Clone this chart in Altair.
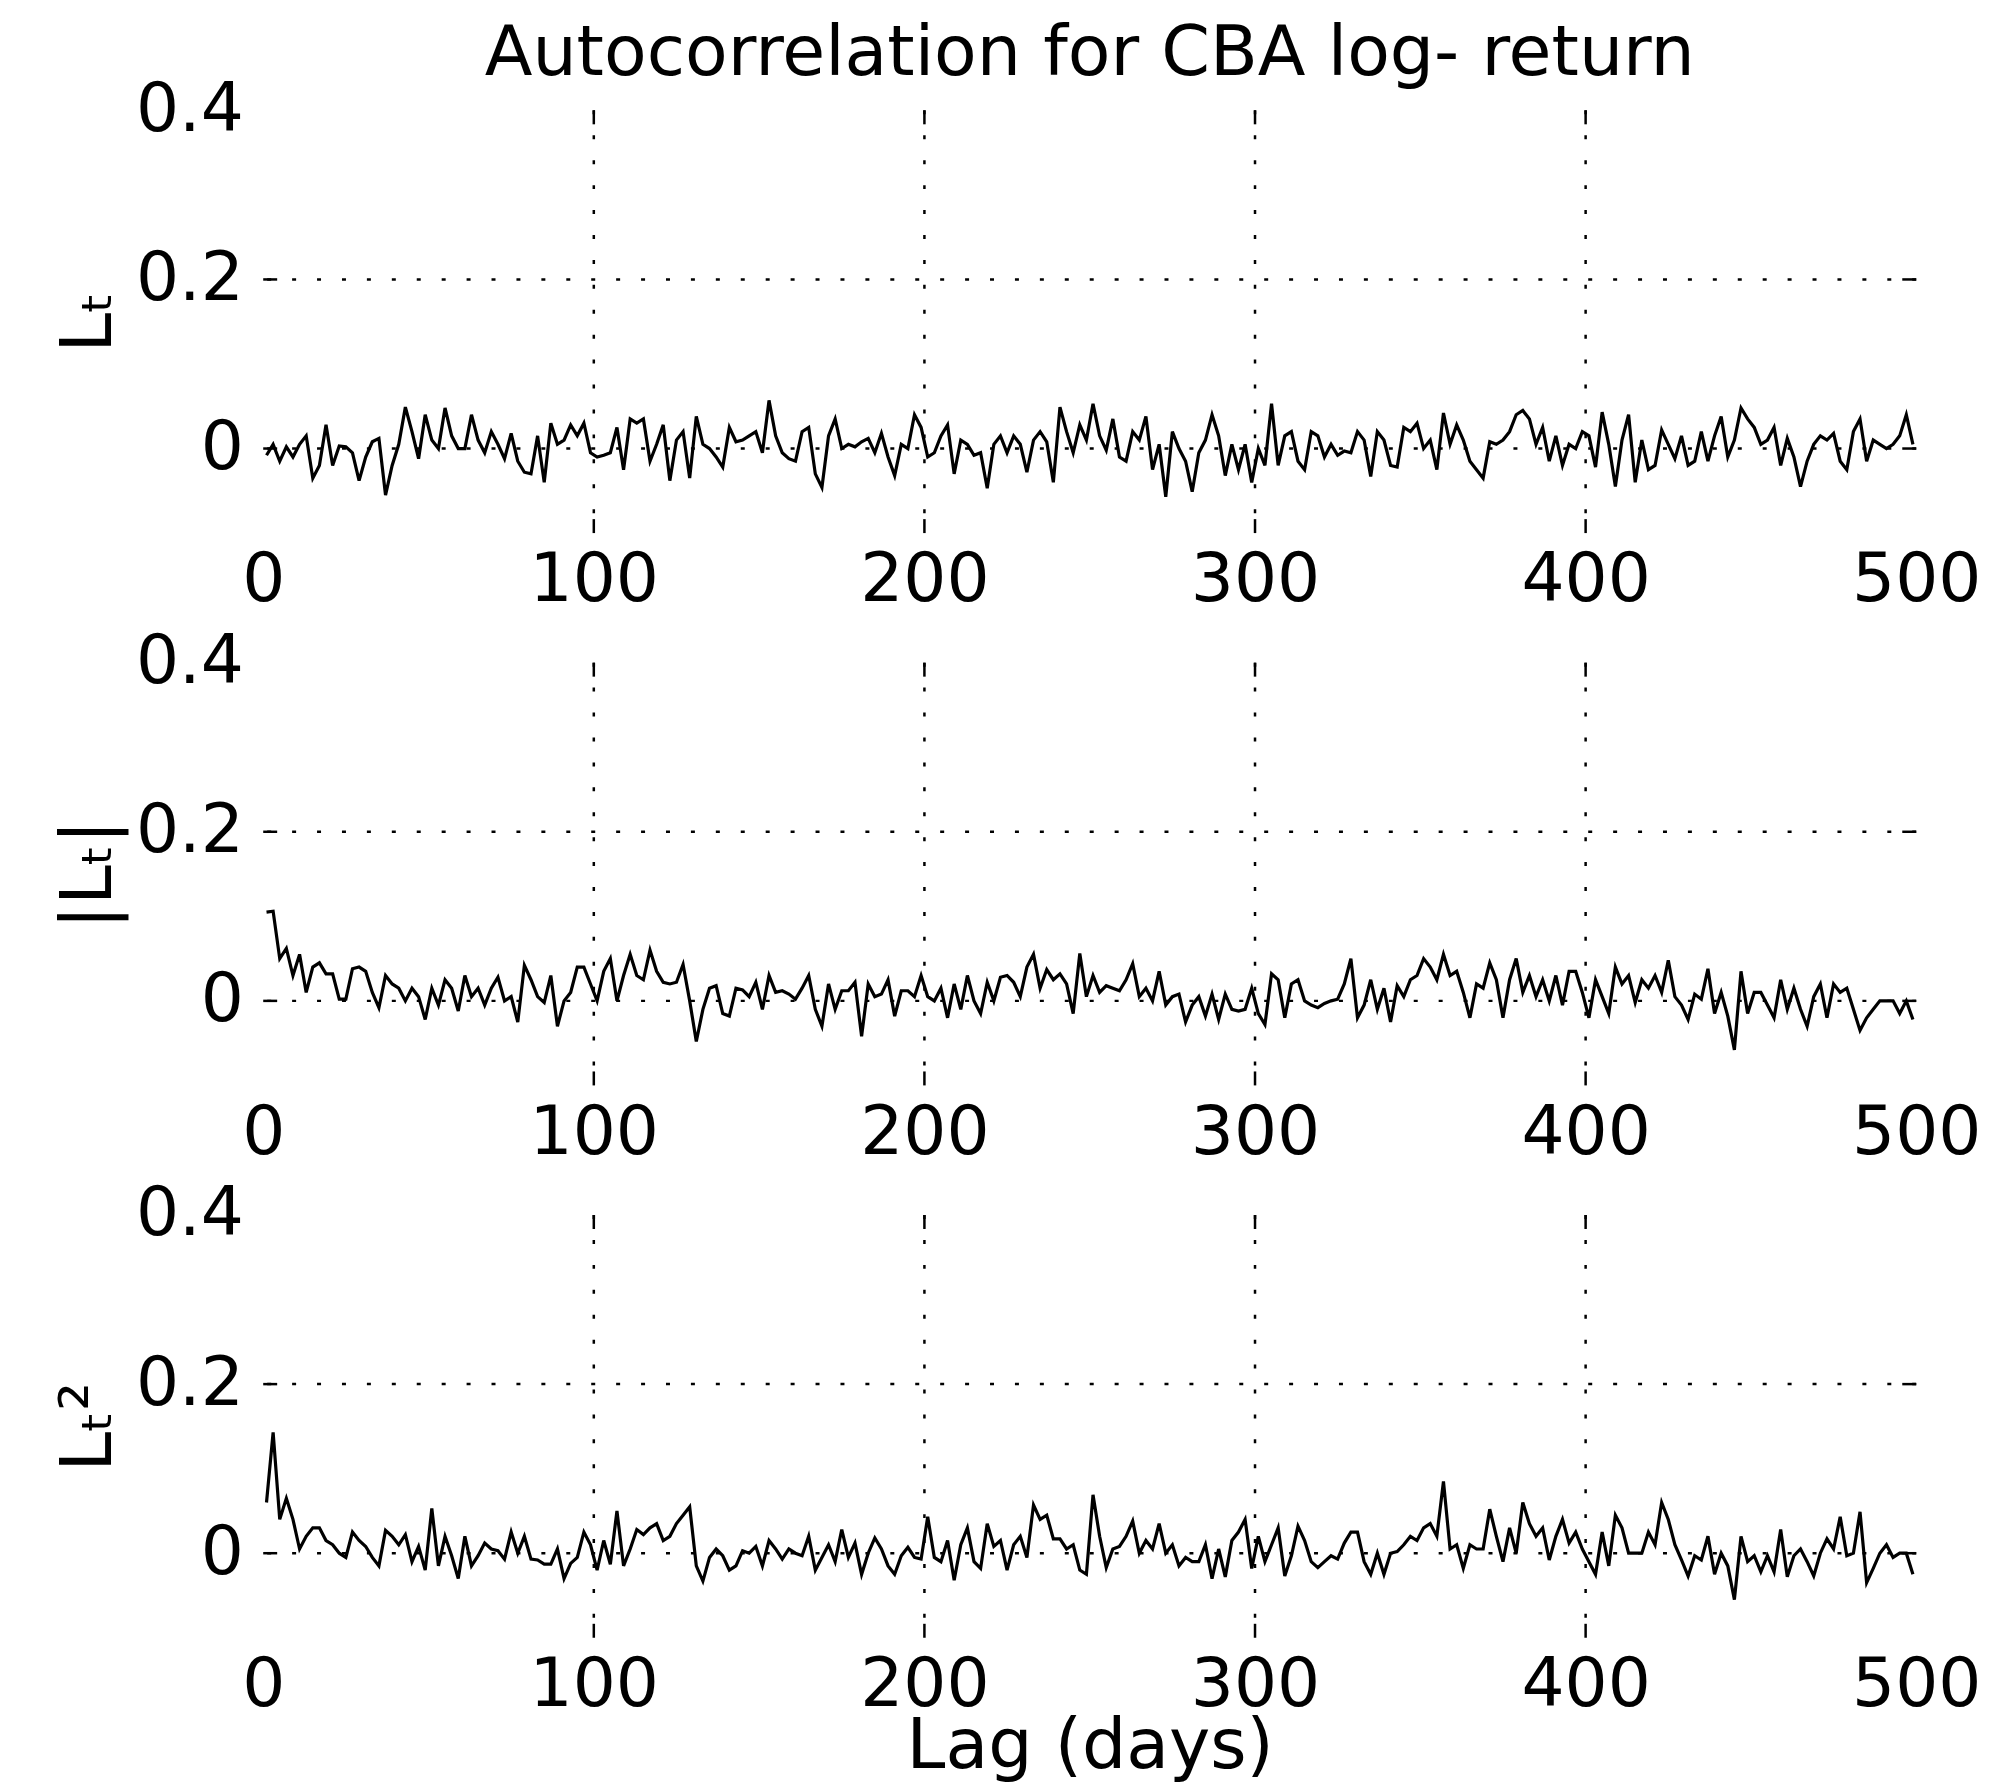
import altair as alt
import pandas as pd

TITLE = "Autocorrelation for CBA log- return"
X_TITLE = "Lag (days)"
Y_TITLES = ["Lₜ", "|Lₜ|", "Lₜ²"]
X_TICKS = [0, 100, 200, 300, 400, 500]
Y_TICKS = [0, 0.2, 0.4]
GRID_X = [100, 200, 300, 400]
GRID_Y = [0, 0.2]

# autocorrelation values (in thousandths), read at lags 1, 3, 5, ..., 499
ACF_L = [
    -8, 5, -15, 2, -10, 5, 15, -35, -20, 28,
    -20, 3, 2, -5, -38, -10, 8, 12, -55, -20,
    5, 49, 20, -12, 40, 10, 0, 48, 15, 0,
    0, 40, 10, -5, 20, 5, -12, 18, -15, -28,
    -30, 15, -40, 30, 5, 10, 28, 15, 30, -5,
    -10, -8, -5, 25, -25, 35, 30, 35, -15, 5,
    28, -38, 10, 20, -35, 38, 5, 0, -10, -22,
    25, 8, 10, 15, 20, -5, 57, 15, -5, -12,
    -15, 20, 25, -30, -46, 15, 35, 0, 5, 2,
    8, 12, -5, 18, -10, -32, 5, 0, 40, 25,
    -10, -5, 15, 28, -30, 10, 5, -8, -5, -47,
    5, 15, -5, 15, 5, -28, 10, 20, 8, -40,
    49, 20, -5, 28, 10, 53, 15, -2, 35, -10,
    -15, 20, 10, 38, -25, 5, -57, 20, 0, -15,
    -51, -5, 10, 40, 15, -32, 5, -25, 5, -40,
    0, -20, 53, -20, 15, 20, -15, -25, 20, 15,
    -10, 5, -8, -3, -5, 20, 10, -33, 20, 10,
    -20, -22, 25, 20, 30, 0, 10, -25, 42, 5,
    28, 10, -15, -25, -35, 8, 5, 10, 20, 40,
    45, 35, 5, 25, -15, 15, -20, 5, 0, 20,
    15, -22, 43, 5, -45, 10, 40, -40, 10, -25,
    -20, 22, 5, -12, 15, -20, -15, 20, -15, 15,
    38, -10, 10, 48, 35, 25, 5, 10, 25, -20,
    12, -10, -45, -15, 5, 15, 10, 18, -15, -25,
    20, 35, -15, 10, 5, 0, 5, 15, 40, 5,
]

ACF_ABS = [
    105, 106, 50, 62, 30, 55, 10, 40, 45, 32,
    32, 2, 2, 38, 40, 35, 10, -8, 30, 20,
    15, 0, 15, 5, -22, 15, -5, 25, 15, -12,
    30, 5, 15, -5, 15, 28, 0, 5, -25, 42,
    25, 5, -2, 30, -30, 0, 10, 40, 40, 20,
    0, 35, 50, 0, 30, 55, 30, 25, 60, 35,
    22, 20, 22, 43, 0, -48, -10, 15, 18, -15,
    -18, 15, 13, 5, 22, -10, 30, 10, 12, 8,
    2, 15, 30, -10, -30, 20, -10, 12, 12, 22,
    -42, 20, 5, 8, 25, -18, 12, 12, 5, 30,
    5, 0, 15, -20, 20, -10, 30, 0, -15, 22,
    0, 28, 30, 22, 5, 40, 55, 15, 37, 25,
    32, 20, -15, 56, 5, 30, 10, 18, 15, 12,
    25, 44, 5, 15, 0, 35, -5, 5, 8, -25,
    -5, 5, -18, 8, -22, 8, -10, -12, -10, 15,
    -15, -28, 32, 25, -20, 20, 25, 0, -5, -8,
    -3, 0, 2, 20, 50, -20, -5, 25, -10, 15,
    -25, 18, 5, 25, 30, 50, 40, 25, 55, 30,
    35, 10, -20, 20, 15, 45, 25, -20, 25, 50,
    10, 30, 5, 25, 0, 30, -5, 35, 35, 10,
    -20, 25, 5, -15, 40, 20, 30, -2, 25, 15,
    30, 10, 48, 5, -5, -22, 8, 2, 38, -15,
    10, -18, -58, 35, -15, 10, 10, -5, -20, 25,
    -10, 15, -10, -30, 5, 20, -20, 20, 10, 15,
    -10, -35, -20, -10, 0, 0, 0, -15, 0, -22,
]

ACF_SQ = [
    60, 143, 40, 65, 40, 5, 20, 30, 30, 15,
    10, 0, -5, 25, 15, 8, -5, -15, 27, 20,
    10, 22, -10, 8, -20, 53, -15, 20, -3, -30,
    20, -15, -3, 12, 5, 3, -7, 25, 0, 20,
    -7, -8, -13, -13, 5, -30, -12, -5, 25, 10,
    -20, 15, -13, 50, -15, 5, 28, 22, 30, 35,
    15, 20, 35, 45, 55, -15, -33, -5, 5, -3,
    -20, -15, 3, 0, 8, -15, 15, 5, -7, 5,
    0, -3, 20, -20, -5, 10, -10, 28, -5, 12,
    -25, 0, 18, 5, -15, -25, -3, 7, -5, -7,
    43, -5, -10, 15, -32, 10, 30, -10, -18, 35,
    8, 15, -20, 10, 20, -5, 57, 40, 45, 17,
    17, 5, 10, -20, -25, 69, 20, -17, 5, 8,
    20, 38, 0, 15, 5, 35, 0, 10, -15, -5,
    -10, -10, 10, -30, 5, -28, 15, 25, 40, -18,
    20, -10, 10, 30, -27, -3, 32, 15, -10, -17,
    -10, -3, -7, 12, 25, 25, -10, -25, 0, -25,
    0, 2, 10, 20, 15, 30, 35, 20, 85, 5,
    10, -18, 10, 5, 5, 52, 20, -10, 30, 0,
    60, 35, 20, 30, -8, 20, 40, 12, 25, 5,
    -10, -25, 25, -15, 45, 30, 0, 0, 0, 25,
    10, 60, 40, 10, -8, -27, -3, -8, 20, -25,
    0, -15, -55, 20, -10, -3, -22, -3, -22, 28,
    -28, -3, 5, -10, -27, 0, 17, 5, 43, -3,
    0, 49, -35, -18, 0, 10, -5, 0, 0, -25,
]

FONT = "DejaVu Sans"
W, H = 1658, 424
TICK = 14


def panel(vals, ytitle, first, last):
    df = pd.DataFrame({
        "lag": [1 + 2 * i for i in range(len(vals))],
        "acf": [v / 1000.0 for v in vals],
    })
    xaxis_kw = dict(
        values=X_TICKS, grid=False, domain=False, ticks=False,
        labelFontSize=68, labelFont=FONT, labelColor="black",
        labelPadding=14, labelFlush=False, format="d",
    )
    if last:
        xaxis_kw.update(title=X_TITLE, titleFontSize=70, titleFont=FONT,
                        titleFontWeight="normal", titleColor="black",
                        titlePadding=-7)
    else:
        xaxis_kw.update(title="")
    xs = alt.Scale(domain=[0, 500], nice=False, zero=False)
    ys = alt.Scale(domain=[-0.1, 0.4], nice=False, zero=False)
    line = alt.Chart(df).mark_line(color="black", strokeWidth=3.2).encode(
        x=alt.X("lag:Q", scale=xs, axis=alt.Axis(**xaxis_kw)),
        y=alt.Y("acf:Q", scale=ys, axis=alt.Axis(
            values=Y_TICKS, grid=False, domain=False, ticks=False,
            labelFontSize=68, labelFont=FONT, labelColor="black",
            labelPadding=20, labelFlush=False, format=".1~f",
            title=ytitle, titleFontSize=72, titleFont=FONT,
            titleFontWeight="normal", titleColor="black",
            titleAngle=270, titleX=-153, titleY=H / 2,
            titleAlign="center", titleBaseline="alphabetic",
        )),
    )
    dash = dict(color="black", strokeWidth=2.5, strokeDash=[4, 21])
    solid = dict(color="black", strokeWidth=2.5)
    gx = alt.Chart(pd.DataFrame({"lag": GRID_X})).mark_rule(**dash).encode(
        x=alt.X("lag:Q", scale=xs))
    gy = alt.Chart(pd.DataFrame({"acf": GRID_Y})).mark_rule(**dash).encode(
        y=alt.Y("acf:Q", scale=ys))
    tb = alt.Chart(pd.DataFrame({"lag": GRID_X})).mark_rule(**solid).encode(
        x=alt.X("lag:Q", scale=xs), y=alt.value(H - TICK), y2=alt.value(H))
    tt = alt.Chart(pd.DataFrame({"lag": GRID_X})).mark_rule(**solid).encode(
        x=alt.X("lag:Q", scale=xs), y=alt.value(0), y2=alt.value(TICK))
    tl = alt.Chart(pd.DataFrame({"acf": GRID_Y})).mark_rule(**solid).encode(
        y=alt.Y("acf:Q", scale=ys), x=alt.value(0), x2=alt.value(TICK))
    tr = alt.Chart(pd.DataFrame({"acf": GRID_Y})).mark_rule(**solid).encode(
        y=alt.Y("acf:Q", scale=ys), x=alt.value(W - TICK), x2=alt.value(W))
    props = dict(width=W, height=H)
    if first:
        props["title"] = alt.TitleParams(
            TITLE, fontSize=70, font=FONT, fontWeight="normal",
            color="black", anchor="middle", offset=-14)
    return alt.layer(gx, gy, tb, tt, tl, tr, line).properties(**props)


chart = alt.vconcat(
    panel(ACF_L, Y_TITLES[0], True, False),
    panel(ACF_ABS, Y_TITLES[1], False, False),
    panel(ACF_SQ, Y_TITLES[2], False, True),
    spacing=130, bounds="flush",
).properties(
    padding={"left": 53, "top": 17, "right": 10, "bottom": 0},
    background="white",
).configure_view(stroke=None)

chart.save("out.html", embed_options={"renderer": "svg", "actions": False})
